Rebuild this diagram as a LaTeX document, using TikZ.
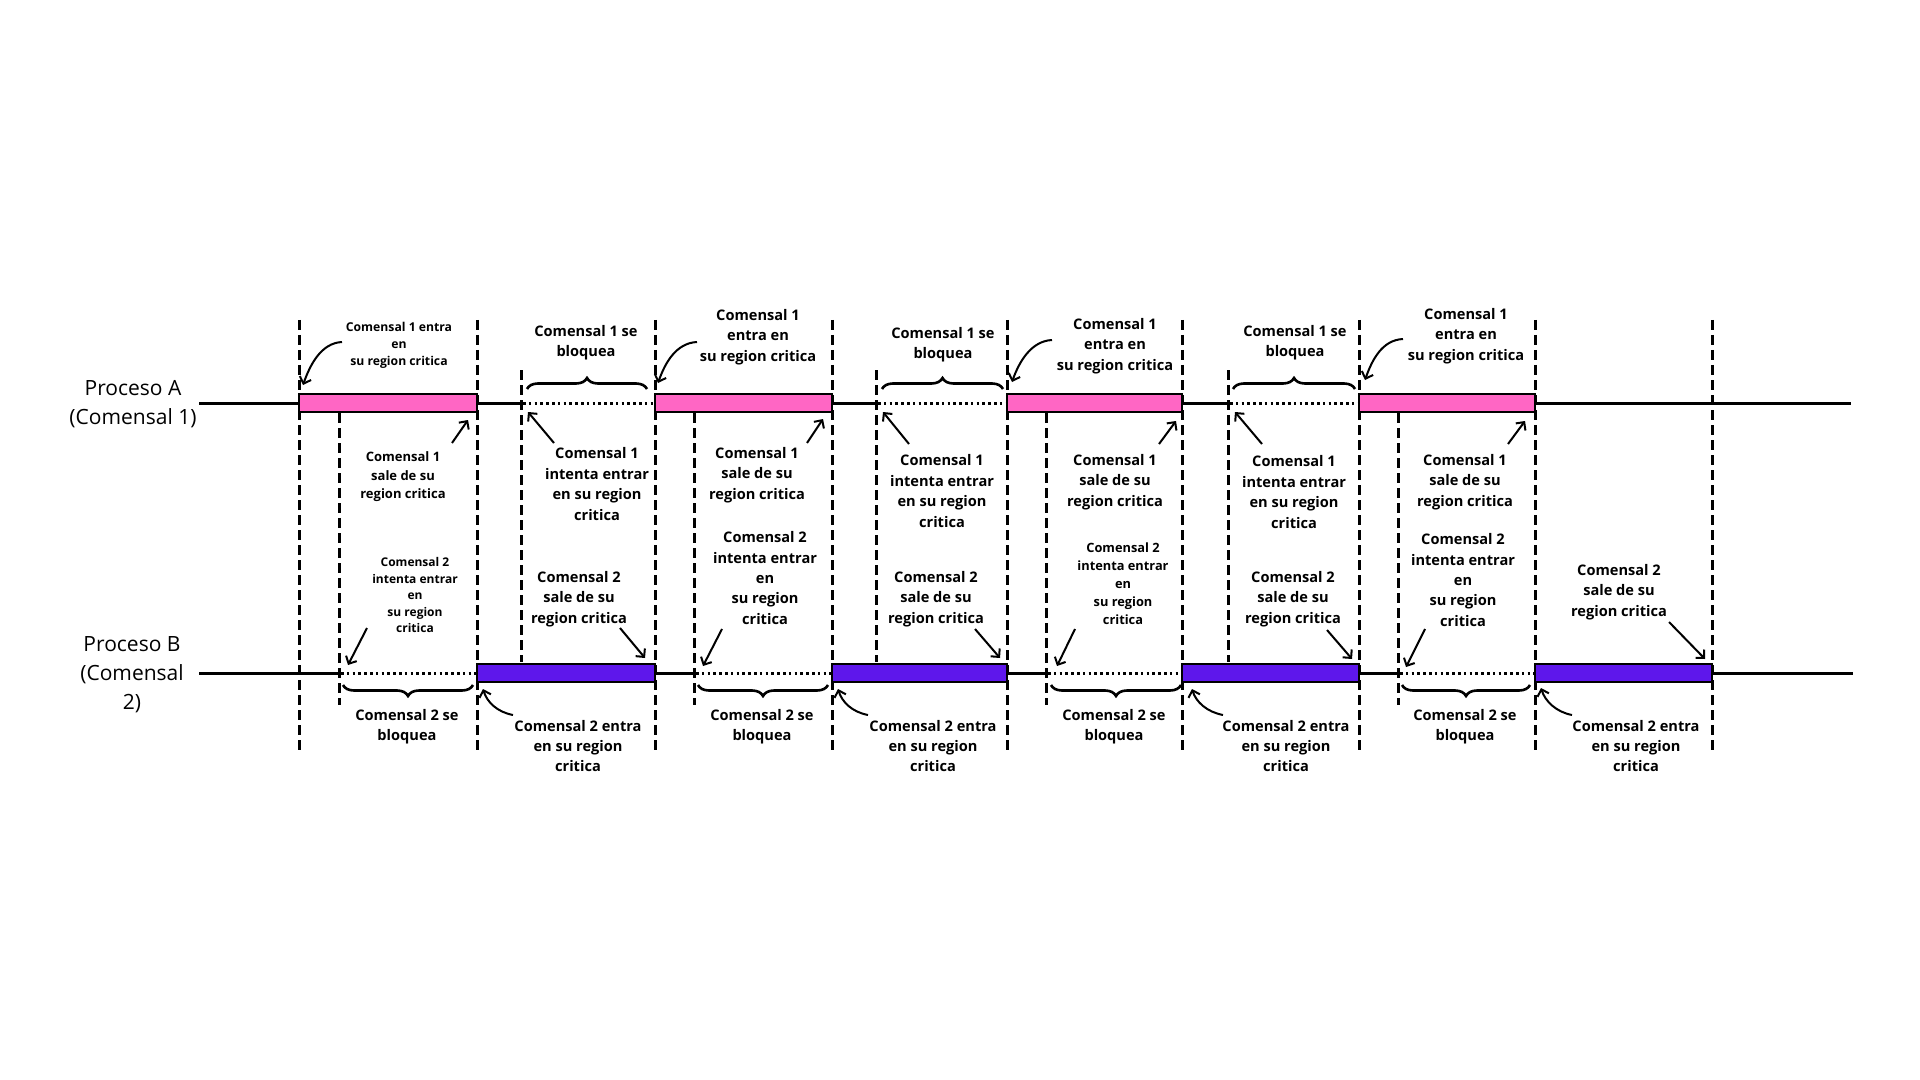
\documentclass[tikz,border=0pt]{standalone}
\usepackage{fontspec}
\setmainfont{Open Sans}
\usetikzlibrary{arrows.meta,decorations.pathreplacing,calc}
\definecolor{pinkc}{HTML}{FF66C4}
\definecolor{purpc}{HTML}{5E17EB}
\tikzset{
  lbl/.style={font=\bfseries\fontsize{7.3}{10.2}\selectfont, align=center, inner sep=0pt},
  lbls/.style={font=\bfseries\fontsize{6.1}{8.5}\selectfont, align=center, inner sep=0pt},
  lblm/.style={font=\bfseries\fontsize{6.5}{9.2}\selectfont, align=center, inner sep=0pt},
  lblsb/.style={font=\bfseries\fontsize{6.0}{8.25}\selectfont, align=center, inner sep=0pt},
  lblsc/.style={font=\bfseries\fontsize{6.4}{9}\selectfont, align=center, inner sep=0pt},
  proc/.style={font=\fontsize{10.5}{14.5}\selectfont, align=center, inner sep=0pt},
  tline/.style={line width=1.5pt},
  dotline/.style={line width=1.5pt, dash pattern=on 1.3pt off 1.6pt},
  vdashed/.style={line width=1.5pt, dash pattern=on 5pt off 2.5pt},
  boxA/.style={draw, line width=1.2pt, fill=pinkc},
  boxB/.style={draw, line width=1.2pt, fill=purpc},
  arr/.style={line width=1pt, -{Straight Barb[length=3pt,width=6pt]}},
  brA/.style={decorate, decoration={brace, amplitude=5.5pt}, line width=1.3pt},
}
\begin{document}
\begin{tikzpicture}[x=0.5pt,y=-0.5pt]
\fill[white] (0,0) rectangle (1920,1080);
\useasboundingbox (0,0) rectangle (1920,1080);

% full dashed lines
\foreach \x in {299,477,655,832,1007,1182,1359,1535,1712}
  \draw[vdashed] (\x,320) -- (\x,753);
% B-request inner dashed
\foreach \x in {339,694,1046,1398}
  \draw[vdashed] (\x,413) -- (\x,705);
% A-request inner dashed
\foreach \x in {521,876,1228}
  \draw[vdashed] (\x,370) -- (\x,662);

% Timeline A
\draw[tline] (199,403) -- (299,403);
\draw[tline] (477,403) -- (521,403);
\draw[tline] (832,403) -- (876,403);
\draw[tline] (1182,403) -- (1228,403);
\draw[tline] (1535,403) -- (1851,403);
\draw[dotline] (523,403) -- (655,403);
\draw[dotline] (878,403) -- (1007,403);
\draw[dotline] (1230,403) -- (1359,403);
\draw[boxA] (299,394) rectangle (477,412);
\draw[boxA] (655,394) rectangle (832,412);
\draw[boxA] (1007,394) rectangle (1182,412);
\draw[boxA] (1359,394) rectangle (1535,412);

% Timeline B
\draw[tline] (199,673) -- (339,673);
\draw[tline] (655,673) -- (694,673);
\draw[tline] (1007,673) -- (1046,673);
\draw[tline] (1359,673) -- (1398,673);
\draw[tline] (1712,673) -- (1853,673);
\draw[dotline] (341,673) -- (477,673);
\draw[dotline] (696,673) -- (832,673);
\draw[dotline] (1048,673) -- (1182,673);
\draw[dotline] (1400,673) -- (1535,673);
\draw[boxB] (477,664) rectangle (655,682);
\draw[boxB] (832,664) rectangle (1007,682);
\draw[boxB] (1182,664) rectangle (1359,682);
\draw[boxB] (1535,664) rectangle (1712,682);

% Braces
\draw[brA] (527,389) -- (647,389);
\draw[brA] (882,389) -- (1003,389);
\draw[brA] (1233,389) -- (1355,389);
\draw[brA] (473,685) -- (343,685);
\draw[brA] (828,685) -- (698,685);
\draw[brA] (1181,685) -- (1051,685);
\draw[brA] (1530,685) -- (1402,685);

% Process labels
\node[proc] (pA) at (133,404) {Proceso A\\(Comensal 1)};
\node[proc] (pB) at (132,675) {Proceso B\\(Comensal\\2)};

% A top labels
\node[lbls] (ae1) at (399,345) {Comensal 1 entra\\en\\su region critica};
\node[lbl] (ab2) at (586,343) {Comensal 1 se\\bloquea};
\node[lbl] (ae2) at (758,337) {Comensal 1\\entra en\\su region critica};
\node[lbl] (ab3) at (943,345) {Comensal 1 se\\bloquea};
\node[lbl] (ae3) at (1115,346) {Comensal 1\\entra en\\su region critica};
\node[lbl] (ab4) at (1295,343) {Comensal 1 se\\bloquea};
\node[lbl] (ae4) at (1466,336) {Comensal 1\\entra en\\su region critica};

% A bottom labels
\node[lblm] (as1) at (403,477) {Comensal 1\\sale de su\\region critica};
\node[lbl] (ai2) at (597,484) {Comensal 1\\intenta entrar\\en su region\\critica};
\node[lbl] (as2) at (757,475) {Comensal 1\\sale de su\\region critica};
\node[lbl] (ai3) at (942,491) {Comensal 1\\intenta entrar\\en su region\\critica};
\node[lbl] (as3) at (1115,482) {Comensal 1\\sale de su\\region critica};
\node[lbl] (ai4) at (1294,492) {Comensal 1\\intenta entrar\\en su region\\critica};
\node[lbl] (as4) at (1465,482) {Comensal 1\\sale de su\\region critica};

% B top labels
\node[lblsb] (bi1) at (415,595) {Comensal 2\\intenta entrar\\en\\su region\\critica};
\node[lbl] (bs2) at (579,599) {Comensal 2\\sale de su\\region critica};
\node[lbl] (bi2) at (765,578) {Comensal 2\\intenta entrar\\en\\su region\\critica};
\node[lbl] (bs3) at (936,599) {Comensal 2\\sale de su\\region critica};
\node[lblsc] (bi3) at (1123,584) {Comensal 2\\intenta entrar\\en\\su region\\critica};
\node[lbl] (bs4) at (1293,599) {Comensal 2\\sale de su\\region critica};
\node[lbl] (bi4) at (1463,580) {Comensal 2\\intenta entrar\\en\\su region\\critica};
\node[lbl] (bs5) at (1619,592) {Comensal 2\\sale de su\\region critica};

% B bottom labels
\node[lbl] (bb1) at (407,727) {Comensal 2 se\\bloquea};
\node[lbl] (be2) at (578,746) {Comensal 2 entra\\en su region\\critica};
\node[lbl] (bb2) at (762,727) {Comensal 2 se\\bloquea};
\node[lbl] (be3) at (933,746) {Comensal 2 entra\\en su region\\critica};
\node[lbl] (bb3) at (1114,727) {Comensal 2 se\\bloquea};
\node[lbl] (be4) at (1286,746) {Comensal 2 entra\\en su region\\critica};
\node[lbl] (bb4) at (1465,727) {Comensal 2 se\\bloquea};
\node[lbl] (be5) at (1636,746) {Comensal 2 entra\\en su region\\critica};

% A enter (curved)
\coordinate (ae1s) at (342,342); \coordinate (ae1t) at (303,385);
\coordinate (ae2s) at (697,342); \coordinate (ae2t) at (658,383);
\coordinate (ae3s) at (1052,340); \coordinate (ae3t) at (1012,382);
\coordinate (ae4s) at (1403,339); \coordinate (ae4t) at (1365,380);
\foreach \n in {1,2,3,4}
  \draw[arr] (ae\n s) .. controls +(-21,1) and +(7,-20) .. (ae\n t);

% A sale (straight)
\coordinate (as1s) at (452,443); \coordinate (as1t) at (468,420);
\coordinate (as2s) at (807,443); \coordinate (as2t) at (823,419);
\coordinate (as3s) at (1159,444); \coordinate (as3t) at (1176,421);
\coordinate (as4s) at (1508,444); \coordinate (as4t) at (1525,421);
\foreach \n in {1,2,3,4}
  \draw[arr] (as\n s) -- (as\n t);

% A intenta (straight)
\coordinate (ai2s) at (554,443); \coordinate (ai2t) at (528,412);
\coordinate (ai3s) at (909,444); \coordinate (ai3t) at (883,412);
\coordinate (ai4s) at (1262,444); \coordinate (ai4t) at (1235,412);
\foreach \n in {2,3,4}
  \draw[arr] (ai\n s) -- (ai\n t);

% B intenta (straight)
\coordinate (bi1s) at (367,628); \coordinate (bi1t) at (348,665);
\coordinate (bi2s) at (722,629); \coordinate (bi2t) at (703,666);
\coordinate (bi3s) at (1075,629); \coordinate (bi3t) at (1057,666);
\coordinate (bi4s) at (1425,629); \coordinate (bi4t) at (1406,667);
\foreach \n in {1,2,3,4}
  \draw[arr] (bi\n s) -- (bi\n t);

% B sale (straight)
\coordinate (bs2s) at (620,628); \coordinate (bs2t) at (645,658);
\coordinate (bs3s) at (975,629); \coordinate (bs3t) at (1000,658);
\coordinate (bs4s) at (1327,630); \coordinate (bs4t) at (1352,659);
\coordinate (bs5s) at (1669,622); \coordinate (bs5t) at (1705,659);
\foreach \n in {2,3,4,5}
  \draw[arr] (bs\n s) -- (bs\n t);

% B enter (curved)
\coordinate (be2s) at (513,715); \coordinate (be2t) at (483,689);
\coordinate (be3s) at (868,715); \coordinate (be3t) at (838,689);
\coordinate (be4s) at (1223,715); \coordinate (be4t) at (1192,689);
\coordinate (be5s) at (1572,715); \coordinate (be5t) at (1541,688);
\foreach \n in {2,3,4,5}
  \draw[arr] (be\n s) .. controls +(-16,-3) and +(4,13) .. (be\n t);
\end{tikzpicture}
\end{document}
